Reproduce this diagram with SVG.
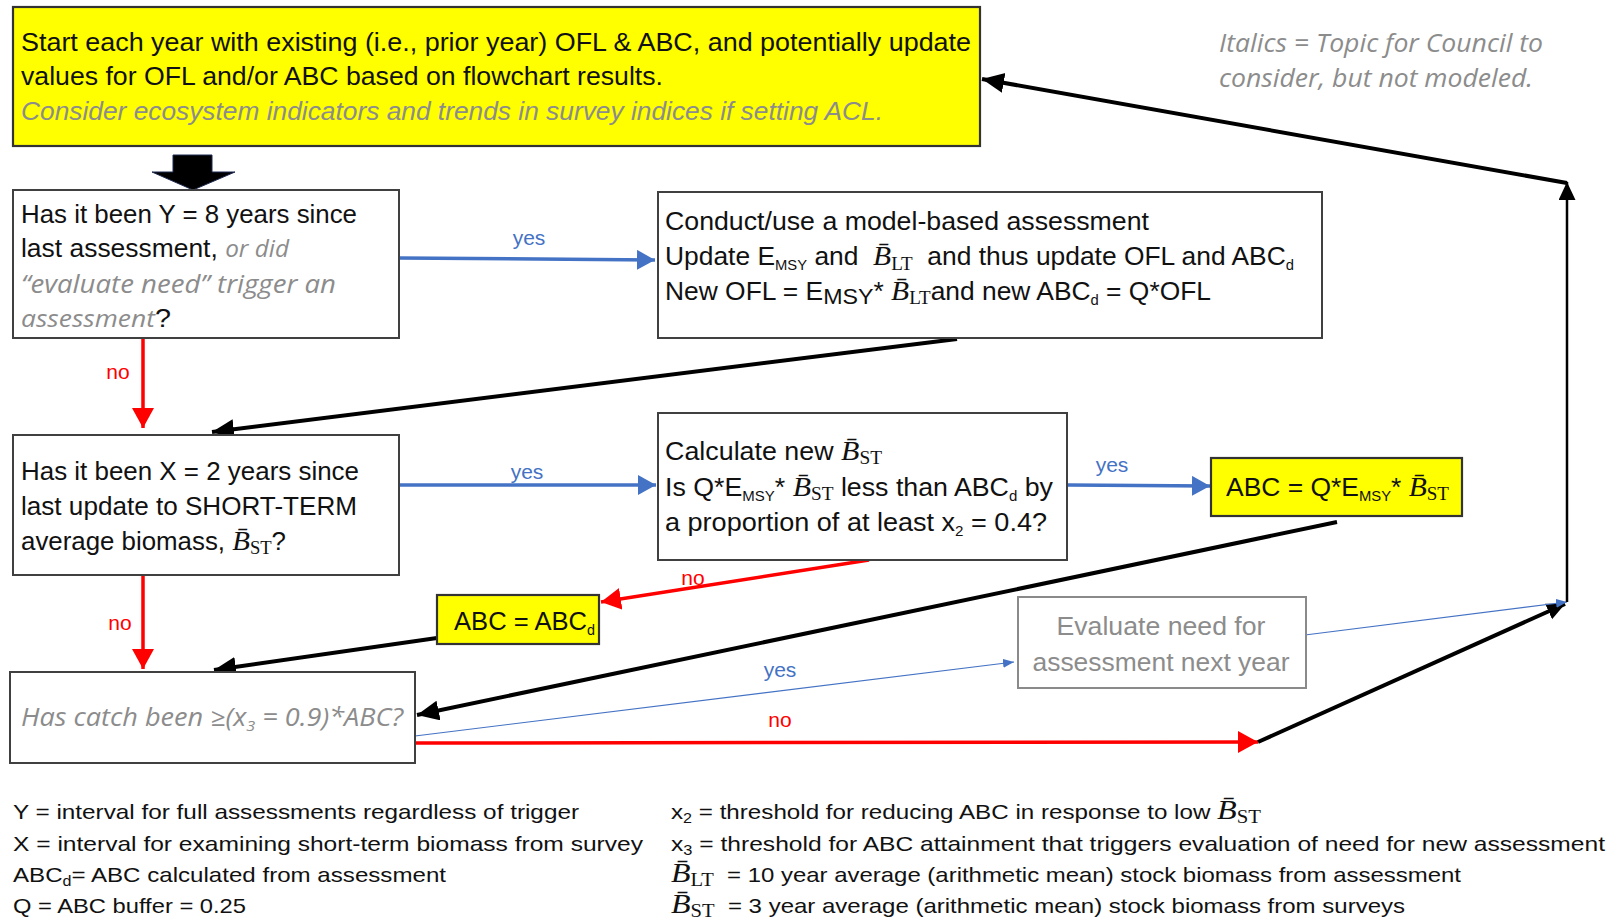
<svg xmlns="http://www.w3.org/2000/svg" width="1613" height="921" viewBox="0 0 1613 921">
<style>
.box{fill:#fff;stroke:#404040;stroke-width:2}
.ybox{fill:#ffff00;stroke:#333;stroke-width:2.2}
.gbox{fill:#fff;stroke:#8a8a8a;stroke-width:2}
text{font-family:"Liberation Sans",Arial,sans-serif;font-size:25px;fill:#111}
.it{font-family:"Open Sans","Liberation Sans",sans-serif;font-style:italic;fill:#8c8c8c}
.gray{fill:#8c8c8c}
.sub{font-size:14px}
.bb{font-family:"Liberation Serif",serif;font-style:italic;font-size:28px}
.bs{font-family:"Liberation Serif",serif;font-size:18px}
.lg{font-size:21px}
.lab{font-size:21px}
.yes{fill:#4472c4}
.no{fill:#ff0000}
.cb{fill:none;stroke:#4472c4;stroke-width:3.5}
.cbt{fill:none;stroke:#4472c4;stroke-width:1.2}
.cr{fill:none;stroke:#ff0000;stroke-width:3.5}
.ck{fill:none;stroke:#000;stroke-width:4}
.ckt{fill:none;stroke:#000;stroke-width:2.5}
</style>
<defs>
<marker id="ab" markerUnits="userSpaceOnUse" markerWidth="20" markerHeight="22" refX="18" refY="10" orient="auto"><path d="M0,0 L18,10 L0,20 z" fill="#4472c4"/></marker>
<marker id="abs" markerUnits="userSpaceOnUse" markerWidth="12" markerHeight="10" refX="11" refY="4.5" orient="auto"><path d="M0,0 L11,4.5 L0,9 z" fill="#4472c4"/></marker>
<marker id="ar" markerUnits="userSpaceOnUse" markerWidth="22" markerHeight="24" refX="20" refY="11" orient="auto"><path d="M0,0 L20,11 L0,22 z" fill="#ff0000"/></marker>
<marker id="ak" markerUnits="userSpaceOnUse" markerWidth="24" markerHeight="22" refX="22" refY="10" orient="auto"><path d="M0,0 L22,10 L0,20 z" fill="#000"/></marker>
<marker id="aks" markerUnits="userSpaceOnUse" markerWidth="20" markerHeight="18" refX="18" refY="8.5" orient="auto"><path d="M0,0 L18,8.5 L0,17 z" fill="#000"/></marker>
</defs>

<g id="connectors">
<path class="cb" d="M399,258 L655,260" marker-end="url(#ab)"/>
<text class="lab yes" x="529" y="245" text-anchor="middle">yes</text>
<path class="cr" d="M143,338 L143,428" marker-end="url(#ar)"/>
<text class="lab no" x="118" y="379" text-anchor="middle">no</text>
<path class="ck" d="M957,339 L212,432" marker-end="url(#ak)"/>
<path class="cb" d="M399,485 L656,485" marker-end="url(#ab)"/>
<text class="lab yes" x="527" y="479" text-anchor="middle">yes</text>
<path class="cb" d="M1068,485 L1210,486" marker-end="url(#ab)"/>
<text class="lab yes" x="1112" y="472" text-anchor="middle">yes</text>
<path class="cr" d="M869,560 L601,602" marker-end="url(#ar)"/>
<text class="lab no" x="693" y="585" text-anchor="middle">no</text>
<path class="cr" d="M143,576 L143,669" marker-end="url(#ar)"/>
<text class="lab no" x="120" y="630" text-anchor="middle">no</text>
<path class="ck" d="M437,638 L214,670" marker-end="url(#ak)"/>
<path class="ck" d="M1337,522 L417,715" marker-end="url(#ak)"/>
<path class="cbt" d="M415,736 L1014,662" marker-end="url(#abs)"/>
<text class="lab yes" x="780" y="677" text-anchor="middle">yes</text>
<path class="cr" d="M415,743 L1258,742" marker-end="url(#ar)"/>
<text class="lab no" x="780" y="727" text-anchor="middle">no</text>
<path class="ck" d="M1258,742 L1565,604" marker-end="url(#aks)"/>
<path class="cbt" d="M1305,635 L1567,602" marker-end="url(#abs)"/>
<path class="ckt" d="M1567,602 L1567,182" marker-end="url(#aks)"/>
<path class="ck" d="M1567,183 L982,79" marker-end="url(#ak)"/>
<polygon points="173,155 212,155 212,172 235,172 193,190 152,172 173,172" fill="#000" stroke="#1f2a50" stroke-width="1"/>
</g>

<g id="node-start">
<rect class="ybox" x="13" y="7" width="967" height="139"/>
<text x="21" y="51" textLength="950" lengthAdjust="spacingAndGlyphs">Start each year with existing (i.e., prior year) OFL &amp; ABC, and potentially update</text>
<text x="21" y="85" textLength="642" lengthAdjust="spacingAndGlyphs">values for OFL and/or ABC based on flowchart results.</text>
<text class="gray" x="21" y="120" textLength="862" lengthAdjust="spacingAndGlyphs" font-style="italic">Consider ecosystem indicators and trends in survey indices if setting ACL.</text>
</g>

<g id="note">
<text class="it" x="1219" y="52" font-size="22" textLength="324" lengthAdjust="spacingAndGlyphs">Italics = Topic for Council to</text>
<text class="it" x="1219" y="87" font-size="22" textLength="314" lengthAdjust="spacingAndGlyphs">consider, but not modeled.</text>
</g>

<g id="node-q-y">
<rect class="box" x="13" y="190" width="386" height="148"/>
<text x="21" y="223" textLength="336" lengthAdjust="spacingAndGlyphs">Has it been Y = 8 years since</text>
<text x="21" y="257" textLength="268" lengthAdjust="spacingAndGlyphs">last assessment, <tspan class="it" font-size="23">or did</tspan></text>
<text class="it" x="21" y="293" font-size="23" textLength="315" lengthAdjust="spacingAndGlyphs">“evaluate need” trigger an</text>
<text x="21" y="327" textLength="150" lengthAdjust="spacingAndGlyphs"><tspan class="it" font-size="23">assessment</tspan>?</text>
</g>

<g id="node-assess">
<rect class="box" x="658" y="192" width="664" height="146"/>
<text x="665" y="230" textLength="484" lengthAdjust="spacingAndGlyphs">Conduct/use a model-based assessment</text>
<text x="665" y="265" textLength="629" lengthAdjust="spacingAndGlyphs">Update E<tspan class="sub" dy="5">MSY</tspan><tspan dy="-5"> and&#160;&#160;</tspan><tspan class="bb">B&#x304;</tspan><tspan class="bs" dy="5">LT</tspan><tspan dy="-5">&#160;&#160;and thus update OFL and ABC</tspan><tspan class="sub" dy="5">d</tspan></text>
<text x="665" y="300" textLength="546" lengthAdjust="spacingAndGlyphs">New OFL = E<tspan font-size="22" dy="4">MSY</tspan><tspan dy="-4">* </tspan><tspan class="bb">B&#x304;</tspan><tspan class="bs" dy="4">LT</tspan><tspan dy="-4">and new ABC</tspan><tspan class="sub" dy="5">d</tspan><tspan dy="-5"> = Q*OFL</tspan></text>
</g>

<g id="node-q-x">
<rect class="box" x="13" y="435" width="386" height="140"/>
<text x="21" y="480" textLength="338" lengthAdjust="spacingAndGlyphs">Has it been X = 2 years since</text>
<text x="21" y="515" textLength="336" lengthAdjust="spacingAndGlyphs">last update to SHORT-TERM</text>
<text x="21" y="550" textLength="265" lengthAdjust="spacingAndGlyphs">average biomass, <tspan class="bb">B&#x304;</tspan><tspan class="bs" dy="4">ST</tspan><tspan dy="-4">?</tspan></text>
</g>

<g id="node-calc-bst">
<rect class="box" x="658" y="413" width="409" height="147"/>
<text x="665" y="460" textLength="217" lengthAdjust="spacingAndGlyphs">Calculate new <tspan class="bb">B&#x304;</tspan><tspan class="bs" dy="4">ST</tspan></text>
<text x="665" y="496" textLength="388" lengthAdjust="spacingAndGlyphs">Is Q*E<tspan class="sub" dy="5">MSY</tspan><tspan dy="-5">* </tspan><tspan class="bb">B&#x304;</tspan><tspan class="bs" dy="4">ST</tspan><tspan dy="-4"> less than ABC</tspan><tspan class="sub" dy="5">d</tspan><tspan dy="-5"> by</tspan></text>
<text x="665" y="531" textLength="382" lengthAdjust="spacingAndGlyphs">a proportion of at least x<tspan class="sub" dy="5">2</tspan><tspan dy="-5"> = 0.4?</tspan></text>
</g>

<g id="node-abc-new">
<rect class="ybox" x="1211" y="458" width="251" height="58"/>
<text x="1226" y="496" textLength="223" lengthAdjust="spacingAndGlyphs">ABC = Q*E<tspan class="sub" dy="5">MSY</tspan><tspan dy="-5">* </tspan><tspan class="bb">B&#x304;</tspan><tspan class="bs" dy="4">ST</tspan></text>
</g>

<g id="node-abc-d">
<rect class="ybox" x="437" y="595" width="162" height="49"/>
<text x="454" y="630" textLength="141" lengthAdjust="spacingAndGlyphs">ABC = ABC<tspan class="sub" dy="5">d</tspan></text>
</g>

<g id="node-catch">
<rect class="box" x="10" y="672" width="405" height="91"/>
<text class="it" x="21" y="726" font-size="24" textLength="382" lengthAdjust="spacingAndGlyphs">Has catch been ≥(x<tspan font-size="15" dy="5">3</tspan><tspan dy="-5"> = 0.9)*ABC?</tspan></text>
</g>

<g id="node-evaluate">
<rect class="gbox" x="1018" y="597" width="288" height="91"/>
<text class="gray" x="1161" y="635" text-anchor="middle" textLength="209" lengthAdjust="spacingAndGlyphs">Evaluate need for</text>
<text class="gray" x="1161" y="671" text-anchor="middle" textLength="257" lengthAdjust="spacingAndGlyphs">assessment next year</text>
</g>

<g id="legend">
<text class="lg" x="13" y="819" textLength="566" lengthAdjust="spacingAndGlyphs">Y = interval for full assessments regardless of trigger</text>
<text class="lg" x="13" y="851" textLength="630" lengthAdjust="spacingAndGlyphs">X = interval for examining short-term biomass from survey</text>
<text class="lg" x="13" y="882" textLength="433" lengthAdjust="spacingAndGlyphs">ABC<tspan class="sub" dy="4">d</tspan><tspan dy="-4">= ABC calculated from assessment</tspan></text>
<text class="lg" x="13" y="913" textLength="233" lengthAdjust="spacingAndGlyphs">Q = ABC buffer = 0.25</text>
<text class="lg" x="671" y="819" textLength="590" lengthAdjust="spacingAndGlyphs">x<tspan class="sub" dy="4">2</tspan><tspan dy="-4"> = threshold for reducing ABC in response to low </tspan><tspan class="bb" font-size="25">B&#x304;</tspan><tspan class="bs" font-size="16" dy="4">ST</tspan></text>
<text class="lg" x="671" y="851" textLength="934" lengthAdjust="spacingAndGlyphs">x<tspan class="sub" dy="4">3</tspan><tspan dy="-4"> = threshold for ABC attainment that triggers evaluation of need for new assessment</tspan></text>
<text class="lg" x="671" y="882" textLength="790" lengthAdjust="spacingAndGlyphs"><tspan class="bb" font-size="25">B&#x304;</tspan><tspan class="bs" font-size="16" dy="4">LT</tspan><tspan dy="-4">&#160;&#160;= 10 year average (arithmetic mean) stock biomass from assessment</tspan></text>
<text class="lg" x="671" y="913" textLength="734" lengthAdjust="spacingAndGlyphs"><tspan class="bb" font-size="25">B&#x304;</tspan><tspan class="bs" font-size="16" dy="4">ST</tspan><tspan dy="-4">&#160;&#160;= 3 year average (arithmetic mean) stock biomass from surveys</tspan></text>
</g>
</svg>
